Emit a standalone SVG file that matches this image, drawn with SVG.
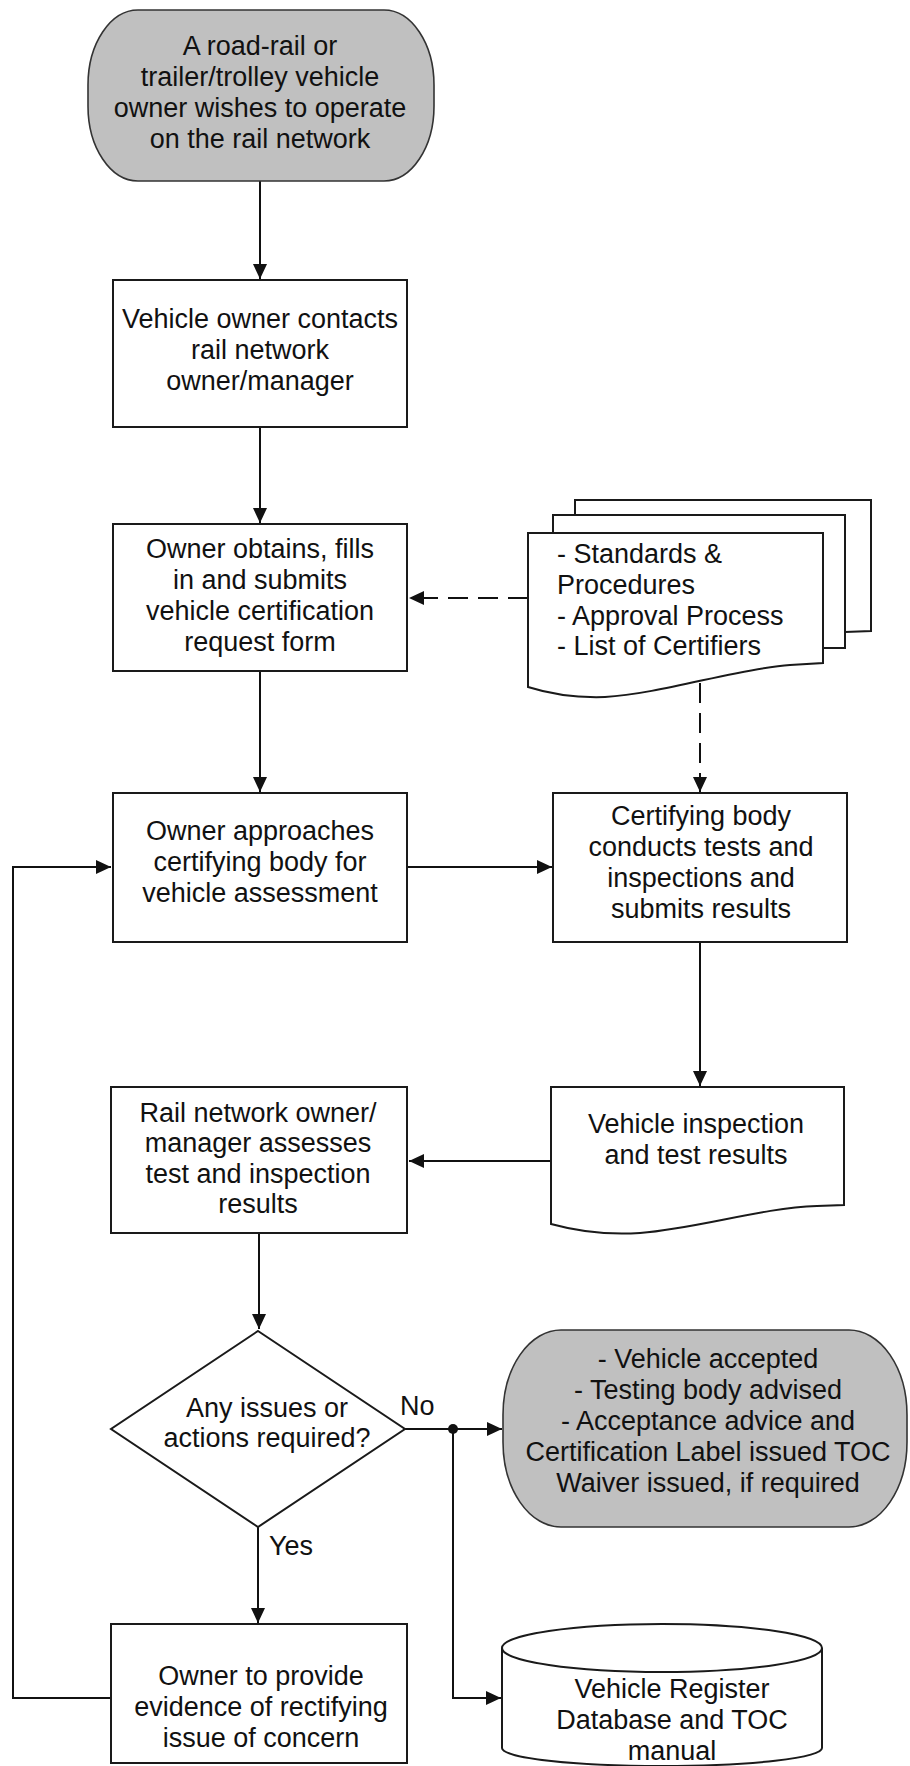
<svg xmlns="http://www.w3.org/2000/svg" width="910" height="1766" viewBox="0 0 910 1766">
<defs>
<marker id="arr" markerUnits="userSpaceOnUse" markerWidth="16" markerHeight="14" refX="15" refY="7" orient="auto">
<path d="M0,0 L15,7 L0,14 Z" fill="#111"/>
</marker>
<style>
.shape{fill:#fff;stroke:#1a1a1a;stroke-width:2}
.term{fill:#c0c0c0;stroke:#333;stroke-width:1.6}
.t{font-family:"Liberation Sans",Arial,sans-serif;font-size:27px;fill:#111;text-anchor:middle}
.tl{font-family:"Liberation Sans",Arial,sans-serif;font-size:27px;fill:#111}
.c{fill:none;stroke:#111;stroke-width:2}
.ca{fill:none;stroke:#111;stroke-width:2;marker-end:url(#arr)}
.d{fill:none;stroke:#111;stroke-width:2;stroke-dasharray:20 10;marker-end:url(#arr)}
</style>
</defs>
<rect width="910" height="1766" fill="#fff"/>

<g id="connectors">
<path class="ca" d="M260,181 V279"/>
<path class="ca" d="M260,427 V523"/>
<path class="ca" d="M260,671 V792"/>
<path class="d" d="M528,598 H409"/>
<path class="d" d="M700,683 V792"/>
<path class="ca" d="M407,867 H552"/>
<path class="ca" d="M700,942 V1086"/>
<path class="ca" d="M551,1161 H409"/>
<path class="ca" d="M259,1233 V1329"/>
<path class="ca" d="M405,1429 H502"/>
<circle cx="453" cy="1429" r="5" fill="#111"/>
<path class="ca" d="M453,1429 V1698 H501"/>
<path class="ca" d="M258,1527 V1623"/>
<path class="ca" d="M111,1698 H13 V867 H111"/>
<text class="tl" x="400" y="1415">No</text>
<text class="tl" x="269" y="1555">Yes</text>
</g>

<g id="start">
<rect class="term" x="88" y="10" width="346" height="171" rx="50" ry="75"/>
<text class="t" x="260" y="55">A road-rail or</text>
<text class="t" x="260" y="86">trailer/trolley vehicle</text>
<text class="t" x="260" y="117">owner wishes to operate</text>
<text class="t" x="260" y="148">on the rail network</text>
</g>

<g id="contact">
<rect class="shape" x="113" y="280" width="294" height="147"/>
<text class="t" x="260" y="328">Vehicle owner contacts</text>
<text class="t" x="260" y="359">rail network</text>
<text class="t" x="260" y="390">owner/manager</text>
</g>

<g id="obtain">
<rect class="shape" x="113" y="524" width="294" height="147"/>
<text class="t" x="260" y="558">Owner obtains, fills</text>
<text class="t" x="260" y="589">in and submits</text>
<text class="t" x="260" y="620">vehicle certification</text>
<text class="t" x="260" y="651">request form</text>
</g>

<g id="documents">
<path class="shape" d="M575,500 H871 V631 L845,632 L575,640 Z"/>
<path class="shape" d="M553,515 H845 V648 L823,648 L553,660 Z"/>
<path class="shape" d="M528,533 H823 V663 L790,665 C740,668 660,694 605,697 C575,698 550,694 528,687 Z"/>
<text class="tl" x="557" y="563">- Standards &amp;</text>
<text class="tl" x="557" y="594">Procedures</text>
<text class="tl" x="557" y="625">- Approval Process</text>
<text class="tl" x="557" y="655">- List of Certifiers</text>
</g>

<g id="approach">
<rect class="shape" x="113" y="793" width="294" height="149"/>
<text class="t" x="260" y="840">Owner approaches</text>
<text class="t" x="260" y="871">certifying body for</text>
<text class="t" x="260" y="902">vehicle assessment</text>
</g>

<g id="certifying">
<rect class="shape" x="553" y="793" width="294" height="149"/>
<text class="t" x="701" y="825">Certifying body</text>
<text class="t" x="701" y="856">conducts tests and</text>
<text class="t" x="701" y="887">inspections and</text>
<text class="t" x="701" y="918">submits results</text>
</g>

<g id="results">
<path class="shape" d="M551,1087 H844 V1205 L817,1206 C760,1208 700,1228 640,1233 C610,1235 580,1232 551,1224 Z"/>
<text class="t" x="696" y="1133">Vehicle inspection</text>
<text class="t" x="696" y="1164">and test results</text>
</g>

<g id="assess">
<rect class="shape" x="111" y="1087" width="296" height="146"/>
<text class="t" x="258" y="1122">Rail network owner/</text>
<text class="t" x="258" y="1152">manager assesses</text>
<text class="t" x="258" y="1183">test and inspection</text>
<text class="t" x="258" y="1213">results</text>
</g>

<g id="decision">
<path class="shape" d="M258,1331 L405,1429 L258,1527 L111,1429 Z"/>
<text class="t" x="267" y="1417">Any issues or</text>
<text class="t" x="267" y="1447">actions required?</text>
</g>

<g id="accepted">
<rect class="term" x="503" y="1330" width="404" height="197" rx="58" ry="85"/>
<text class="t" x="708" y="1368">- Vehicle accepted</text>
<text class="t" x="708" y="1399">- Testing body advised</text>
<text class="t" x="708" y="1430">- Acceptance advice and</text>
<text class="t" x="708" y="1461">Certification Label issued TOC</text>
<text class="t" x="708" y="1492">Waiver issued, if required</text>
</g>

<g id="rectify">
<rect class="shape" x="111" y="1624" width="296" height="139"/>
<text class="t" x="261" y="1685">Owner to provide</text>
<text class="t" x="261" y="1716">evidence of rectifying</text>
<text class="t" x="261" y="1747">issue of concern</text>
</g>

<g id="register">
<path class="shape" d="M502,1648 V1748 A160,18 0 0 0 822,1748 V1648"/>
<ellipse class="shape" cx="662" cy="1648" rx="160" ry="24"/>
<text class="t" x="672" y="1698">Vehicle Register</text>
<text class="t" x="672" y="1729">Database and TOC</text>
<text class="t" x="672" y="1760">manual</text>
</g>
</svg>
